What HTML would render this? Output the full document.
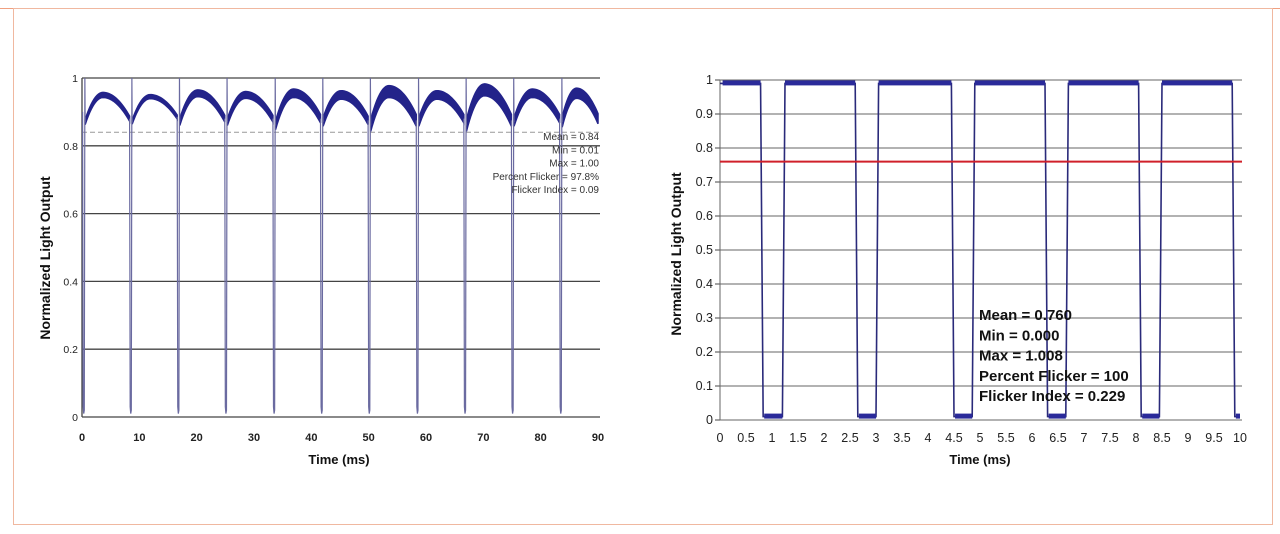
<!DOCTYPE html>
<html><head><meta charset="utf-8"><style>
html,body{margin:0;padding:0;background:#fff}
svg{display:block}
text{font-family:"Liberation Sans",sans-serif}
</style></head><body>
<svg id="root" width="1280" height="534" viewBox="0 0 1280 534" xmlns="http://www.w3.org/2000/svg">
<line x1="0" y1="8.5" x2="1280" y2="8.5" stroke="#f0a080" stroke-width="1"/>
<rect x="13.5" y="8.5" width="1259" height="516" fill="none" stroke="#f0b8a0" stroke-width="1"/>
<g id="left"></g>
<g id="right"></g>
</svg>
<script>
// ---- Left chart data ----
const leftXTicks=[0,10,20,30,40,50,60,70,80,90];
const leftYTicks=[0,0.2,0.4,0.6,0.8,1];
const leftYTickLabels=['0','0.2','0.4','0.6','0.8','1'];
const leftDropTimes=[0.2,8.4,16.7,25.0,33.4,41.7,50.0,58.4,66.7,75.0,83.4,91.7];
const leftArchStart=[0.87,0.87,0.87,0.87,0.86,0.87,0.86,0.87,0.86,0.87,0.87];
const leftArchPeak=[0.95,0.945,0.955,0.95,0.955,0.95,0.96,0.95,0.965,0.955,0.955];
const leftArchEnd=[0.88,0.885,0.88,0.88,0.88,0.875,0.875,0.88,0.875,0.88,0.88];
const leftBand=[0.015,0.012,0.02,0.02,0.025,0.025,0.035,0.025,0.035,0.025,0.03];
const leftMean=0.84;
const leftStats=['Mean = 0.84','Min = 0.01','Max = 1.00','Percent Flicker = 97.8%','Flicker Index = 0.09'];
// ---- Right chart data ----
const rightXTicks=[0,0.5,1,1.5,2,2.5,3,3.5,4,4.5,5,5.5,6,6.5,7,7.5,8,8.5,9,9.5,10];
const rightXTickLabels=['0','0.5','1','1.5','2','2.5','3','3.5','4','4.5','5','5.5','6','6.5','7','7.5','8','8.5','9','9.5','10'];
const rightYTicks=[0,0.1,0.2,0.3,0.4,0.5,0.6,0.7,0.8,0.9,1];
const rightYTickLabels=['0','0.1','0.2','0.3','0.4','0.5','0.6','0.7','0.8','0.9','1'];
const rightOffStart=[0.78,2.6,4.45,6.25,8.05,9.85];
const rightOffEnd=[1.2,3.0,4.85,6.65,8.45,10];
const rightHigh=0.99;
const rightLow=0.01;
const rightMean=0.76;
const rightStats=['Mean = 0.760','Min = 0.000','Max = 1.008','Percent Flicker = 100','Flicker Index = 0.229'];

const NS='http://www.w3.org/2000/svg';
function mk(parent,tag,attrs){const e=document.createElementNS(NS,tag);for(const k in attrs)e.setAttribute(k,attrs[k]);parent.appendChild(e);return e;}

// ===== Left =====
(function(){
const g=document.getElementById('left');
const x0=82,x1=598,y0=417,y1=78;
const X=t=>x0+(t-0)/(90-0)*(x1-x0);
const Y=v=>y0-(v-0)/(1-0)*(y0-y1);
leftYTicks.forEach((v,i)=>{
 const l=mk(g,'line',{x1:x0,x2:600,y1:Y(v),y2:Y(v),stroke:'#444','stroke-width':1.3});
 
 
 const t=mk(g,'text',{x:x0-4,y:Y(v)+4,'text-anchor':'end','font-size':10.5,fill:'#222'});
 t.textContent=leftYTickLabels[i];
 
 
});
const ax=mk(g,'line',{x1:x0,x2:x0,y1:y1,y2:y0,stroke:'#444','stroke-width':1.3});


leftXTicks.forEach(v=>{
 const t=mk(g,'text',{x:X(v),y:441,'text-anchor':'middle','font-size':11,'font-weight':'bold',fill:'#222'});
 t.textContent=String(v);
 
 
});
const m=mk(g,'line',{x1:x0,x2:600,y1:Y(leftMean),y2:Y(leftMean),stroke:'#999','stroke-width':1,'stroke-dasharray':'5,3'});


for(let i=0;i<leftArchStart.length;i++){
 const ts=leftDropTimes[i]+0.35, te=Math.min(leftDropTimes[i+1]-0.1,90);
 const tp=ts+(te-ts)*0.4;
 const up=[],dn=[];
 const N=30;
 for(let k=0;k<=N;k++){
  const t=ts+(te-ts)*k/N;
  let v;
  if(t<=tp){const u=(t-ts)/(tp-ts);v=leftArchStart[i]+(leftArchPeak[i]-leftArchStart[i])*(1-(1-u)*(1-u));}
  else{const u=(t-tp)/(te-tp);v=leftArchPeak[i]+(leftArchEnd[i]-leftArchPeak[i])*u*u;}
  up.push(X(t)+','+Y(v+leftBand[i]/2));dn.unshift(X(t)+','+Y(v-leftBand[i]/2));
 }
 const p=mk(g,'polygon',{points:up.concat(dn).join(' '),fill:'#23238a',stroke:'#23238a','stroke-width':1.5});
 
 
}
leftDropTimes.forEach((t,i)=>{
 if(t>90)return;
 const prev=i>0?leftArchEnd[i-1]:0.9;
 const pts=[[t-0.1,prev],[t,0.03],[t+0.1,0.01],[t+0.2,0.02],[t+0.3,1.0],[t+0.35,i<leftArchStart.length?leftArchStart[i]:0.87]];
 const pl=mk(g,'polyline',{points:pts.map(p=>X(p[0])+','+Y(p[1])).join(' '),fill:'none',stroke:'#6a6aa0','stroke-width':1.2});
 
 
});
leftStats.forEach((s,i)=>{
 const t=mk(g,'text',{x:599,y:140+i*13.3,'text-anchor':'end','font-size':10,fill:'#333'});
 t.textContent=s;
 
 
});
const xt=mk(g,'text',{x:339,y:464,'text-anchor':'middle','font-size':13,'font-weight':'bold',fill:'#111'});
xt.textContent='Time (ms)';


const yt=mk(g,'text',{x:0,y:0,'text-anchor':'middle','font-size':14,'font-weight':'bold',fill:'#111',transform:'translate(50,258) rotate(-90)'});
yt.textContent='Normalized  Light Output';


})();

// ===== Right =====
(function(){
const g=document.getElementById('right');
const x0=720,x1=1240,y0=420,y1=80;
const X=t=>x0+(t-0)/(10-0)*(x1-x0);
const Y=v=>y0-(v-0)/(1-0)*(y0-y1);
rightYTicks.forEach((v,i)=>{
 const l=mk(g,'line',{x1:x0,x2:1242,y1:Y(v),y2:Y(v),stroke:'#666','stroke-width':1});
 
 
 const tk=mk(g,'line',{x1:x0-5,x2:x0,y1:Y(v),y2:Y(v),stroke:'#444','stroke-width':1});
 
 
 const t=mk(g,'text',{x:x0-7,y:Y(v)+4,'text-anchor':'end','font-size':12.5,fill:'#222'});
 t.textContent=rightYTickLabels[i];
 
 
});
const ax=mk(g,'line',{x1:x0,x2:x0,y1:y1,y2:y0,stroke:'#666','stroke-width':1});


rightXTicks.forEach((v,i)=>{
 const t=mk(g,'text',{x:X(v),y:442,'text-anchor':'middle','font-size':12.5,fill:'#222'});
 t.textContent=rightXTickLabels[i];
 
 
});
const pts=[[0,rightHigh]];
rightOffStart.forEach((s,i)=>{
 const e=rightOffEnd[i];
 pts.push([s,rightHigh],[s+0.05,rightLow],[e,rightLow]);
 if(e<10)pts.push([e+0.05,rightHigh]);
});
const pl=mk(g,'polyline',{points:pts.map(p=>X(p[0])+','+Y(p[1])).join(' '),fill:'none',stroke:'#2a2a7a','stroke-width':1.6});


const bands=[];
let prevEnd=0;
rightOffStart.forEach((s,i)=>{bands.push([prevEnd+0.05,s,rightHigh]);bands.push([s+0.07,rightOffEnd[i],rightLow]);prevEnd=rightOffEnd[i];});
bands.forEach(b=>{
 if(b[1]<=b[0])return;
 const r=mk(g,'rect',{x:X(b[0]),y:Y(b[2])-3,width:X(b[1])-X(b[0]),height:5,fill:'#2a2a9a'});
 
 
});
const m=mk(g,'line',{x1:x0,x2:1242,y1:Y(rightMean),y2:Y(rightMean),stroke:'#d0202a','stroke-width':2});


rightStats.forEach((s,i)=>{
 const t=mk(g,'text',{x:979,y:320+i*20.3,'font-size':15,'font-weight':'bold',fill:'#111'});
 t.textContent=s;
 
 
});
const xt=mk(g,'text',{x:980,y:464,'text-anchor':'middle','font-size':13,'font-weight':'bold',fill:'#111'});
xt.textContent='Time (ms)';


const yt=mk(g,'text',{x:0,y:0,'text-anchor':'middle','font-size':14,'font-weight':'bold',fill:'#111',transform:'translate(681,254) rotate(-90)'});
yt.textContent='Normalized  Light Output';


})();
</script>
</body></html>
